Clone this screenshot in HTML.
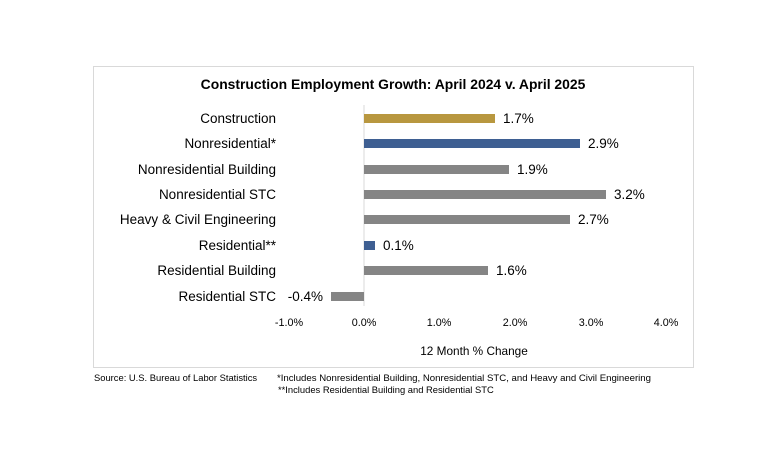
<!DOCTYPE html>
<html><head><meta charset="utf-8"><style>
body{margin:0;background:#fff;}
svg{display:block;font-family:"Liberation Sans",Arial,sans-serif;}
</style></head><body>
<svg width="768" height="463" viewBox="0 0 768 463">
<rect x="93.5" y="66.5" width="600" height="301" fill="#fff" stroke="#d9d9d9" stroke-width="1"/>
<text x="393" y="89" font-size="13.9" font-weight="bold" text-anchor="middle" fill="#000">Construction Employment Growth: April 2024 v. April 2025</text>
<line x1="364" y1="105" x2="364" y2="306" stroke="#d9d9d9"/>
<g font-size="13.5" fill="#000" text-anchor="end">
<text x="276" y="123">Construction</text>
<text x="276" y="148">Nonresidential*</text>
<text x="276" y="174">Nonresidential Building</text>
<text x="276" y="199">Nonresidential STC</text>
<text x="276" y="224">Heavy &amp; Civil Engineering</text>
<text x="276" y="250">Residential**</text>
<text x="276" y="275">Residential Building</text>
<text x="276" y="301">Residential STC</text>
</g>
<rect x="364" y="114" width="131" height="9" fill="#b8973f"/>
<rect x="364" y="139" width="216" height="9" fill="#3e5f92"/>
<rect x="364" y="165" width="145" height="9" fill="#858585"/>
<rect x="364" y="190" width="242" height="9" fill="#858585"/>
<rect x="364" y="215" width="206" height="9" fill="#858585"/>
<rect x="364" y="241" width="11" height="9" fill="#3e5f92"/>
<rect x="364" y="266" width="124" height="9" fill="#858585"/>
<rect x="331" y="292" width="33" height="9" fill="#858585"/>
<g font-size="13.5" fill="#000">
<text x="503" y="123">1.7%</text>
<text x="588" y="148">2.9%</text>
<text x="517" y="174">1.9%</text>
<text x="614" y="199">3.2%</text>
<text x="578" y="224">2.7%</text>
<text x="383" y="250">0.1%</text>
<text x="496" y="275">1.6%</text>
<text x="323" y="301" text-anchor="end">-0.4%</text>
</g>
<g font-size="10.8" fill="#000" text-anchor="middle">
<text x="289" y="326">-1.0%</text>
<text x="364" y="326">0.0%</text>
<text x="439" y="326">1.0%</text>
<text x="515" y="326">2.0%</text>
<text x="591" y="326">3.0%</text>
<text x="666" y="326">4.0%</text>
<text x="474" y="355" font-size="11.8">12 Month % Change</text>
</g>
<g font-size="9.4" fill="#000">
<text x="94" y="381">Source:  U.S. Bureau of Labor Statistics</text>
<text x="277" y="381" textLength="374" lengthAdjust="spacingAndGlyphs">*Includes Nonresidential Building, Nonresidential STC, and Heavy and Civil Engineering</text>
<text x="278" y="393">**Includes Residential Building and Residential STC</text>
</g>
</svg>
</body></html>
